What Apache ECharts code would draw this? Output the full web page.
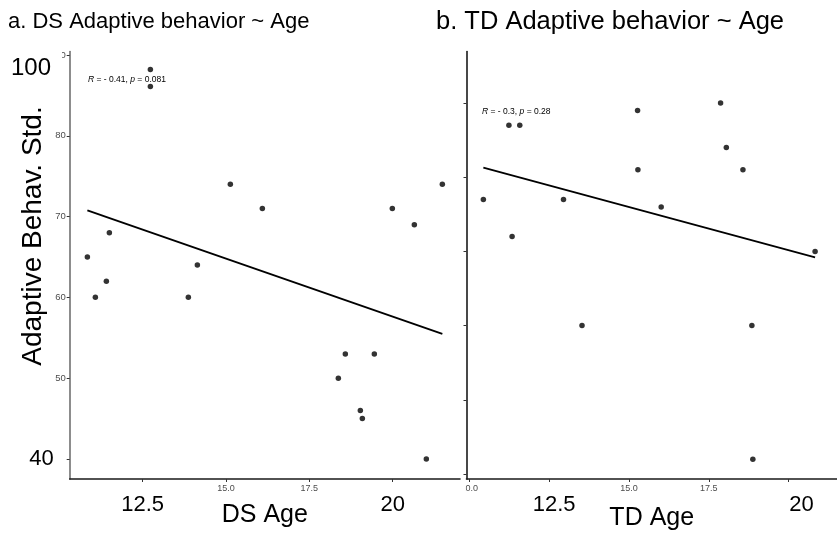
<!DOCTYPE html>
<html>
<head>
<meta charset="utf-8">
<script src="https://cdn.jsdelivr.net/npm/echarts@6/dist/echarts.min.js"></script>
<style>
  html, body { margin: 0; padding: 0; background: #fff; }
  #chart { width: 837px; height: 533px; }
</style>
</head>
<body>
<div id="chart"></div>
<script>
// Down syndrome group: age (years) and adaptive behaviour standard score
const dsAge   = [10.84, 11.08, 11.41, 11.50, 12.73, 12.73, 13.87, 14.14, 15.13, 16.09,
                 18.37, 18.58, 19.03, 19.09, 19.45, 19.99, 20.65, 21.01, 21.49];
const dsScore = [65, 60, 62, 68, 88.2, 86.1, 60, 64, 74, 71,
                 50, 53, 46, 45, 53, 71, 69, 40, 74];

// Typically developing group
const tdAge   = [10.44, 11.24, 11.58, 11.34, 12.95, 13.53, 15.27, 15.28, 16.01, 17.87,
                 18.05, 18.57, 18.85, 18.88, 20.83];
const tdScore = [117, 127, 127, 112, 117, 100, 129, 121, 116, 130,
                 124, 121, 100, 82, 110];

// Tick positions
const dsTicksX = [12.5, 15, 17.5, 20];
const tdTicksX = [10, 12.5, 15, 17.5, 20];
const dsTicksY = [40, 50, 60, 70, 80, 90];
const tdTicksY = [80, 90, 100, 110, 120, 130];

const panelTitles = ['a. DS Adaptive behavior ~ Age', 'b. TD Adaptive behavior ~ Age'];
const axisTitlesX = ['DS Age', 'TD Age'];
const axisTitleY = 'Adaptive Behav. Std.';
const corStats = [{ r: '- 0.41', p: '0.081' }, { r: '- 0.3', p: '0.28' }];

const FONT = 'Liberation Sans, Arial, Helvetica, sans-serif';

// Least-squares line over the observed age range
function fitLine(xs, ys) {
  const n = xs.length;
  const mx = xs.reduce((a, b) => a + b, 0) / n;
  const my = ys.reduce((a, b) => a + b, 0) / n;
  let sxy = 0, sxx = 0;
  for (let i = 0; i < n; i++) {
    sxy += (xs[i] - mx) * (ys[i] - my);
    sxx += (xs[i] - mx) * (xs[i] - mx);
  }
  const b = sxy / sxx, a = my - b * mx;
  const x0 = Math.min(...xs), x1 = Math.max(...xs);
  return [[x0, a + b * x0], [x1, a + b * x1]];
}

const zip = (xs, ys) => xs.map((x, i) => [x, ys[i]]);

const bigRich = (pad) => ({ fontSize: 22, color: '#000', fontFamily: FONT, padding: pad });

function xAxisFor(grid, min, max, ticks, name, gap, bigPads, smallFmt) {
  return {
    type: 'value', gridIndex: grid, min: min, max: max,
    splitLine: { show: false },
    axisLine: { onZero: false, lineStyle: { color: '#1a1a1a', width: 1.6 } },
    axisTick: { customValues: ticks, length: 3, lineStyle: { color: '#333', width: 1 } },
    axisLabel: {
      customValues: ticks, color: '#4d4d4d', fontSize: 9, fontFamily: FONT, margin: 5,
      formatter: smallFmt,
      rich: { b0: bigRich(bigPads[0]), b1: bigRich(bigPads[1]) }
    },
    name: name, nameLocation: 'middle', nameGap: gap, nameMoveOverlap: false,
    nameTextStyle: { fontSize: 25, color: '#000', fontFamily: FONT }
  };
}

const chart = echarts.init(document.getElementById('chart'), null, { renderer: 'canvas' });

const option = {
  backgroundColor: '#fff',
  animation: false,
  title: [
    { text: panelTitles[0], left: 3, top: 6,
      textStyle: { fontSize: 22, fontWeight: 'normal', color: '#000', fontFamily: FONT } },
    { text: panelTitles[1], left: 431, top: 4,
      textStyle: { fontSize: 25.5, fontWeight: 'normal', color: '#000', fontFamily: FONT } }
  ],
  grid: [
    { left: 69.7, top: 51.5, width: 390.3, height: 427.5, outerBoundsMode: 'none', containLabel: false },
    { left: 466.5, top: 51.5, width: 370.5, height: 427.5, outerBoundsMode: 'none', containLabel: false }
  ],
  xAxis: [
    xAxisFor(0, 10.31, 22.02, dsTicksX, axisTitlesX[0], 24, [[10, 0, 0, 0], [10, 0, 0, 0]],
      v => v === 12.5 ? '{b0|12.5}' : v === 20 ? '{b1|20}' : v.toFixed(1)),
    xAxisFor(1, 9.912, 21.516, tdTicksX, axisTitlesX[1], 27, [[10, 0, 0, 10], [10, 0, 0, 26]],
      v => v === 12.5 ? '{b0|12.5}' : v === 20 ? '{b1|20}' : v.toFixed(1))
  ],
  yAxis: [
    {
      type: 'value', gridIndex: 0, min: 37.52, max: 90.43,
      splitLine: { show: false },
      axisLine: { onZero: false, lineStyle: { color: '#707070', width: 1.6 } },
      axisTick: { customValues: dsTicksY, length: 3, lineStyle: { color: '#333', width: 1 } },
      axisLabel: {
        customValues: dsTicksY, color: '#4d4d4d', fontSize: 9.5, fontFamily: FONT, margin: 4,
        formatter: v => v === 40 ? '{big|40}' : String(v),
        rich: { big: bigRich([0, 12, 0, 0]) }
      }
    },
    {
      type: 'value', gridIndex: 1, min: 79.33, max: 136.94,
      splitLine: { show: false },
      axisLine: { onZero: false, lineStyle: { color: '#1a1a1a', width: 1.6 } },
      axisTick: { customValues: tdTicksY, length: 3, lineStyle: { color: '#333', width: 1 } },
      axisLabel: { show: false }
    }
  ],
  series: [
    { type: 'scatter', xAxisIndex: 0, yAxisIndex: 0, data: zip(dsAge, dsScore),
      symbolSize: 5.5, itemStyle: { color: '#000' }, z: 3 },
    { type: 'line', xAxisIndex: 0, yAxisIndex: 0, data: fitLine(dsAge, dsScore),
      symbol: 'none', lineStyle: { color: '#000', width: 1.8 }, z: 2 },
    { type: 'scatter', xAxisIndex: 1, yAxisIndex: 1, data: zip(tdAge, tdScore),
      symbolSize: 5.5, itemStyle: { color: '#000' }, z: 3 },
    { type: 'line', xAxisIndex: 1, yAxisIndex: 1, data: fitLine(tdAge, tdScore),
      symbol: 'none', lineStyle: { color: '#000', width: 1.8 }, z: 2 }
  ],
  graphic: [
    // enlarged top label of the DS score axis, drawn over the original small one
    { type: 'rect', z: 100, shape: { x: 8, y: 45, width: 54, height: 37 },
      style: { fill: '#fff' } },
    { type: 'text', z: 101, left: 11, top: 56,
      style: { text: '100', fontSize: 24, fill: '#000', fontFamily: FONT } },
    // the TD panel starts just right of the "1" in its first age label
    { type: 'rect', z: 100, shape: { x: 450, y: 482, width: 15.5, height: 15 },
      style: { fill: '#fff' } },
    // y axis title
    { type: 'text', z: 101, x: 33, y: 236, rotation: Math.PI / 2,
      style: { text: axisTitleY, fontSize: 28, fill: '#000', fontFamily: FONT,
               align: 'center', verticalAlign: 'middle' } },
    // correlation annotations
    { type: 'text', z: 101, x: 88, y: 80,
      style: { text: '{i|R} = ' + corStats[0].r + ', {i|p} = ' + corStats[0].p,
               fontSize: 8.5, fill: '#000', fontFamily: FONT, verticalAlign: 'middle',
               rich: { i: { fontStyle: 'italic', fontSize: 8.5, fontFamily: FONT } } } },
    { type: 'text', z: 101, x: 482, y: 112,
      style: { text: '{i|R} = ' + corStats[1].r + ', {i|p} = ' + corStats[1].p,
               fontSize: 8.5, fill: '#000', fontFamily: FONT, verticalAlign: 'middle',
               rich: { i: { fontStyle: 'italic', fontSize: 8.5, fontFamily: FONT } } } }
  ]
};

chart.setOption(option);
</script>
</body>
</html>
